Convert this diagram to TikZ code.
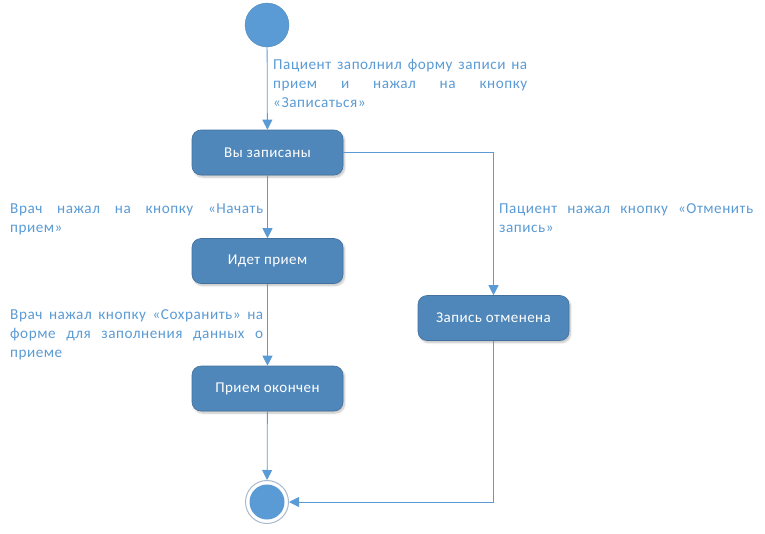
\documentclass[tikz,border=0pt]{standalone}
\usepackage{fontspec}
\setmainfont{Carlito}
\newfontfamily\lblfont[LetterSpace=3.5]{Carlito}
\newfontfamily\boxfont[LetterSpace=3]{Carlito}
\usetikzlibrary{arrows.meta,shadows.blur}
\definecolor{lineblue}{HTML}{5B9BD5}
\definecolor{boxfill}{HTML}{4F87BA}
\definecolor{boxdraw}{HTML}{41719C}
\definecolor{ringgray}{HTML}{A9B9CC}
\tikzset{
  state/.style={draw=boxdraw, fill=boxfill, rounded corners=9pt, minimum width=151pt, minimum height=45pt,
    text=white, font=\boxfont\fontsize{15}{18}\selectfont, line width=0.6pt,
    blur shadow={shadow xshift=1.5pt, shadow yshift=-2pt, shadow blur steps=6, shadow opacity=25}},
  conn/.style={draw=lineblue, line width=0.8pt, -{Triangle[length=10pt,width=10pt]}},
  lbl/.style={text=lineblue, font=\lblfont\fontsize{15.2}{19}\selectfont, text width=254pt, align=justify, inner sep=0pt, anchor=north west},
}
\begin{document}
\begin{tikzpicture}[x=1pt,y=-1pt]
\useasboundingbox (0,0) rectangle (765,533);
\node[circle, fill=lineblue, draw=lineblue!85!black, line width=0.3pt, minimum size=44pt, inner sep=0pt] (start) at (267,25) {};
\node[state] (zap) at (267.5,152.5) {Вы записаны};
\node[state] (idet) at (267.5,261) {Идет прием};
\node[state] (okon) at (267.5,388.5) {Прием окончен};
\node[state] (otm) at (493.5,318) {Запись отменена};
\node[circle, draw=ringgray, fill=white, line width=1pt, minimum size=43pt, inner sep=0pt] (end) at (267,502) {};
\node[circle, fill=lineblue, minimum size=35pt, inner sep=0pt] at (end) {};
\coordinate (c1) at (493.5,152.5);
\coordinate (c2) at (493.5,502);

\draw[conn] (start) -- (zap);
\draw[conn] (zap) -- (idet);
\draw[conn] (idet) -- (okon);
\draw[conn] (okon) -- (end);
\draw[conn] (zap.east) -- (c1) -- (otm.north);
\draw[conn] (otm.south) -- (c2) -- (end.east);

\node[lbl] at (273,59) {Пациент заполнил форму записи на\linebreak прием и нажал на кнопку\linebreak «Записаться»};
\node[lbl, text width=253pt] at (10,204) {Врач нажал на кнопку «Начать\linebreak прием»};
\node[lbl, text width=253pt] at (10,309) {Врач нажал кнопку «Сохранить» на\linebreak форме для заполнения данных о\linebreak приеме};
\node[lbl] at (499,203) {Пациент нажал кнопку «Отменить\linebreak запись»};
\end{tikzpicture}
\end{document}
